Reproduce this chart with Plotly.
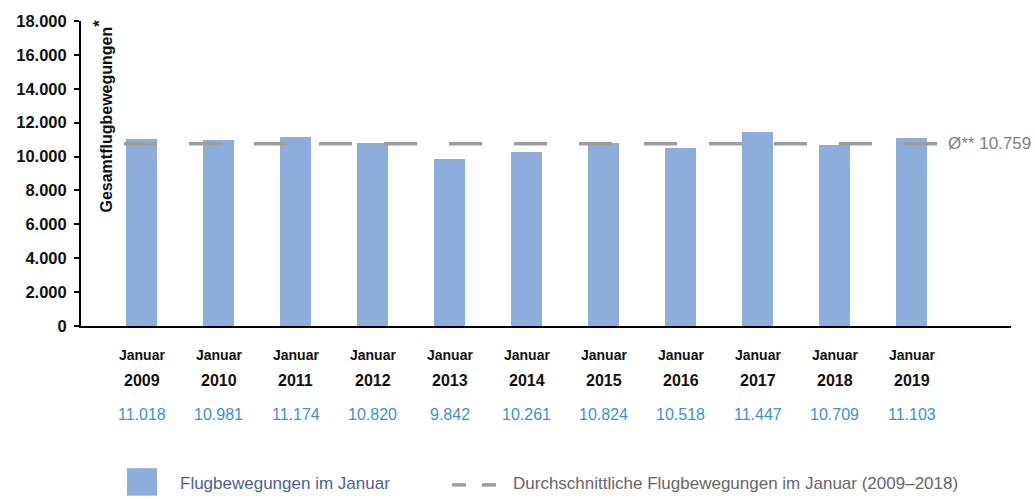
import plotly.graph_objects as go

# ---------------- data ----------------
years = ["2009", "2010", "2011", "2012", "2013", "2014", "2015", "2016", "2017", "2018", "2019"]
values = [11018, 10981, 11174, 10820, 9842, 10261, 10824, 10518, 11447, 10709, 11103]
value_labels = ["11.018", "10.981", "11.174", "10.820", "9.842", "10.261", "10.824", "10.518", "11.447", "10.709", "11.103"]
month_label = "Januar"
average = 10759
average_label = "Ø** 10.759"
y_ticks = [0, 2000, 4000, 6000, 8000, 10000, 12000, 14000, 16000, 18000]
y_tick_labels = ["0", "2.000", "4.000", "6.000", "8.000", "10.000", "12.000", "14.000", "16.000", "18.000"]
y_title = "Gesamtflugbewegungen<sup><span style='font-size:17px'>*</span></sup>"
legend_bar = "Flugbewegungen im Januar"
legend_avg = "Durchschnittliche Flugbewegungen im Januar (2009–2018)"

# ---------------- layout helpers ----------------
W_PX, H_PX = 1035, 499
L, R, T, B = 81, 1011, 15, 326
PW, PH = R - L, B - T

def pxx(x):
    return (x - L) / PW

def pxy(y):
    return (B - y) / PH

FONT = "Liberation Sans, Arial, Helvetica, sans-serif"
BAR_COLOR = "#8DADDB"
DASH_COLOR = "#9BA09E"
BLUE_TXT = "#3F8FD2"

idx = list(range(len(years)))

fig = go.Figure()
fig.add_trace(go.Bar(x=idx, y=values, width=0.4, marker=dict(color=BAR_COLOR, line=dict(width=0)),
                     showlegend=False, hoverinfo="x+y"))
fig.add_trace(go.Scatter(x=[-0.227, len(years) - 1 + 0.331], y=[average, average], mode="lines",
                         line=dict(color=DASH_COLOR, width=3.5, dash="33px,32px"),
                         showlegend=False, hoverinfo="skip"))

ann = []
for i, (yr, vl) in enumerate(zip(years, value_labels)):
    ann.append(dict(x=i, y=pxy(356), xref="x", yref="paper", text=month_label, showarrow=False,
                    font=dict(family=FONT, size=14, color="#111111", weight="bold"), xanchor="center", yanchor="middle"))
    ann.append(dict(x=i, y=pxy(382), xref="x", yref="paper", text=yr, showarrow=False,
                    font=dict(family=FONT, size=16, color="#111111", weight="bold"), xanchor="center", yanchor="middle"))
    ann.append(dict(x=i, y=pxy(416), xref="x", yref="paper", text=vl, showarrow=False,
                    font=dict(family=FONT, size=16, color=BLUE_TXT), xanchor="center", yanchor="middle"))

# average label
ann.append(dict(x=pxx(946), y=average, xref="paper", yref="y", text=average_label, showarrow=False,
                font=dict(family=FONT, size=17, color="#7F7F7F"), xanchor="left", yanchor="middle"))
# y title
ann.append(dict(x=pxx(103), y=pxy(12), xref="paper", yref="paper", text=y_title, showarrow=False,
                textangle=-90, font=dict(family=FONT, size=16, color="#111111", weight="bold"),
                xanchor="center", yanchor="top"))
# legend texts
ann.append(dict(x=pxx(178), y=pxy(487), xref="paper", yref="paper", text=legend_bar, showarrow=False,
                font=dict(family=FONT, size=17, color="#4C5F94"), xanchor="left", yanchor="middle"))
ann.append(dict(x=pxx(511), y=pxy(487), xref="paper", yref="paper", text=legend_avg, showarrow=False,
                font=dict(family=FONT, size=17, color="#666666"), xanchor="left", yanchor="middle"))

shapes = [
    dict(type="rect", xref="paper", yref="paper", x0=pxx(127), x1=pxx(157), y0=pxy(499), y1=pxy(471),
         fillcolor=BAR_COLOR, line=dict(width=0)),
    dict(type="line", xref="paper", yref="paper", x0=pxx(452), x1=pxx(466), y0=pxy(488), y1=pxy(488),
         line=dict(color=DASH_COLOR, width=3.5)),
    dict(type="line", xref="paper", yref="paper", x0=pxx(482), x1=pxx(496), y0=pxy(488), y1=pxy(488),
         line=dict(color=DASH_COLOR, width=3.5)),
]

fig.update_layout(
    width=W_PX, height=H_PX,
    margin=dict(l=L, r=W_PX - R, t=T, b=H_PX - B, pad=0),
    paper_bgcolor="white", plot_bgcolor="white",
    showlegend=False,
    bargap=0,
    annotations=ann,
    shapes=shapes,
    xaxis=dict(range=[(L - 141.5) / 77, (R - 141.5) / 77], showticklabels=False, ticks="",
               showgrid=False, zeroline=False, showline=True, linecolor="#000000", linewidth=2, fixedrange=True),
    yaxis=dict(range=[0, 18000], tickvals=y_ticks, ticktext=y_tick_labels, ticks="outside", ticklen=5,
               tickcolor="#000000", tickwidth=1.5, showgrid=False, zeroline=False, showline=True,
               linecolor="#000000", linewidth=2, tickfont=dict(family=FONT, size=16.5, color="#111111", weight="bold"),
               ticklabelstandoff=4, fixedrange=True),
)

fig.write_html("out.html", config={"displayModeBar": False},
               post_script="document.body.style.margin='0';document.body.style.overflow='hidden';")
